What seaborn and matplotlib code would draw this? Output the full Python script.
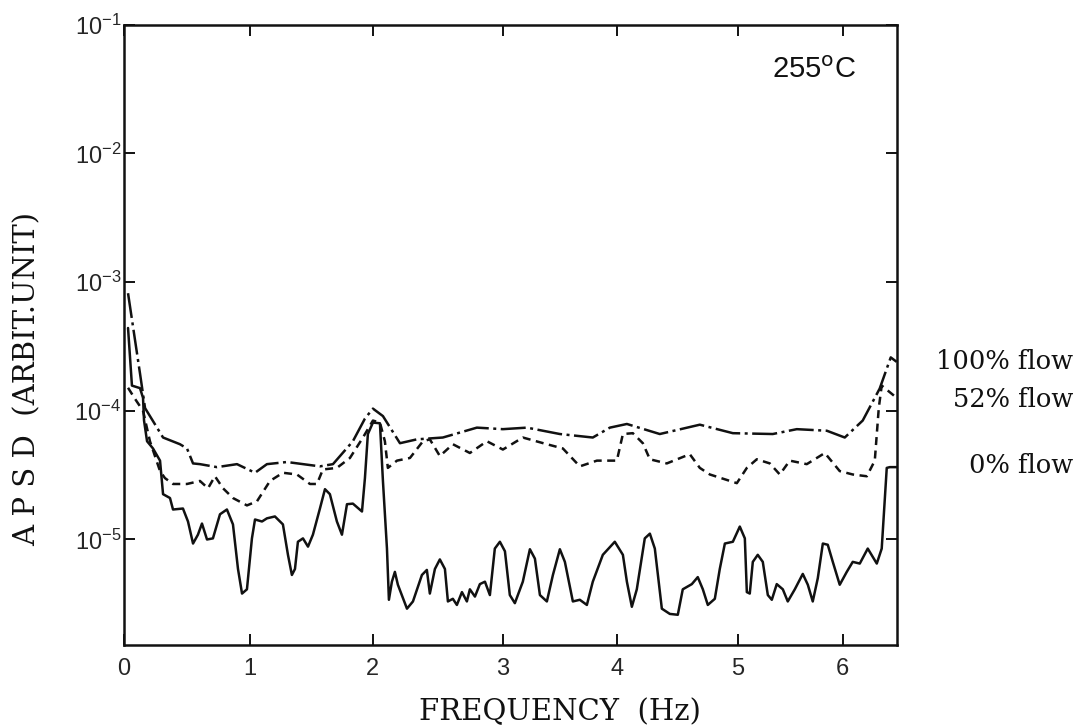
import numpy as np
import pandas as pd
import matplotlib
matplotlib.use("Agg")
import matplotlib.pyplot as plt
import seaborn as sns

# ---- data (frequencies in Hz) ----
freq_100 = [0.032, 0.127, 0.167, 0.262, 0.310, 0.444, 0.500, 0.548, 0.603, 0.738, 0.897, 1.041,
            1.138, 1.301, 1.569, 1.675, 1.837, 1.935, 2.000, 2.077, 2.208, 2.338, 2.538, 2.800,
            3.000, 3.211, 3.500, 3.789, 3.939, 4.083, 4.355, 4.686, 4.959, 5.333, 5.562, 5.848,
            6.019, 6.190, 6.352, 6.457, 6.514]
apsd_100 = [8.2e-4, 1.95e-4, 1.05e-4, 7.4e-5, 6.2e-5, 5.5e-5, 5.1e-5, 3.9e-5, 3.85e-5, 3.65e-5, 3.85e-5, 3.3e-5,
            3.85e-5, 4.0e-5, 3.7e-5, 3.85e-5, 5.8e-5, 8.7e-5, 1.04e-4, 9.1e-5, 5.6e-5, 6.0e-5, 6.2e-5, 7.4e-5,
            7.2e-5, 7.4e-5, 6.6e-5, 6.2e-5, 7.4e-5, 7.9e-5, 6.6e-5, 7.8e-5, 6.7e-5, 6.6e-5, 7.2e-5, 7.0e-5,
            6.2e-5, 8.4e-5, 1.49e-4, 2.6e-4, 2.4e-4]

freq_52 = [0.032, 0.087, 0.151, 0.206, 0.286, 0.325, 0.389, 0.500, 0.603, 0.667, 0.722, 0.786,
           0.865, 0.976, 1.057, 1.163, 1.268, 1.382, 1.488, 1.545, 1.593, 1.707, 1.813, 1.919,
           2.000, 2.054, 2.092, 2.115, 2.185, 2.285, 2.385, 2.438, 2.515, 2.615, 2.746, 2.877,
           3.000, 3.175, 3.386, 3.526, 3.675, 3.825, 4.000, 4.050, 4.132, 4.215, 4.273, 4.413,
           4.603, 4.686, 4.769, 4.992, 5.086, 5.181, 5.305, 5.400, 5.495, 5.657, 5.829, 5.971,
           6.095, 6.229, 6.305, 6.343, 6.371, 6.514]
apsd_52 = [1.51e-4, 1.24e-4, 1.0e-4, 5.8e-5, 3.4e-5, 3.0e-5, 2.7e-5, 2.7e-5, 2.85e-5, 2.5e-5, 3.1e-5, 2.5e-5,
           2.1e-5, 1.84e-5, 1.98e-5, 2.85e-5, 3.3e-5, 3.2e-5, 2.7e-5, 2.7e-5, 3.5e-5, 3.6e-5, 4.3e-5, 6.2e-5,
           8.4e-5, 8.1e-5, 5.8e-5, 3.6e-5, 4.1e-5, 4.3e-5, 5.8e-5, 6.0e-5, 4.45e-5, 5.5e-5, 4.7e-5, 5.8e-5,
           5.0e-5, 6.2e-5, 5.5e-5, 5.1e-5, 3.7e-5, 4.1e-5, 4.1e-5, 6.6e-5, 6.7e-5, 5.6e-5, 4.2e-5, 3.9e-5,
           4.6e-5, 3.6e-5, 3.2e-5, 2.74e-5, 3.6e-5, 4.2e-5, 3.9e-5, 3.2e-5, 4.1e-5, 3.85e-5, 4.7e-5, 3.4e-5,
           3.2e-5, 3.1e-5, 4.1e-5, 1.05e-4, 1.57e-4, 1.26e-4]

freq_0 = [0.032, 0.063, 0.127, 0.151, 0.159, 0.183, 0.230, 0.286, 0.310, 0.365, 0.389, 0.468,
          0.508, 0.548, 0.587, 0.619, 0.659, 0.706, 0.762, 0.817, 0.865, 0.905, 0.937, 0.976,
          1.016, 1.041, 1.098, 1.138, 1.203, 1.268, 1.309, 1.341, 1.366, 1.390, 1.431, 1.472,
          1.512, 1.569, 1.610, 1.650, 1.707, 1.748, 1.789, 1.837, 1.911, 1.935, 1.959, 2.000,
          2.054, 2.077, 2.108, 2.123, 2.146, 2.169, 2.192, 2.262, 2.308, 2.377, 2.415, 2.438,
          2.477, 2.515, 2.554, 2.577, 2.615, 2.646, 2.685, 2.723, 2.746, 2.785, 2.823, 2.862,
          2.900, 2.938, 2.977, 3.018, 3.061, 3.105, 3.175, 3.237, 3.281, 3.325, 3.386, 3.439,
          3.500, 3.544, 3.614, 3.675, 3.737, 3.789, 3.877, 3.982, 4.050, 4.083, 4.124, 4.165,
          4.231, 4.273, 4.314, 4.372, 4.438, 4.504, 4.545, 4.620, 4.669, 4.711, 4.752, 4.810,
          4.851, 4.893, 4.959, 5.019, 5.067, 5.086, 5.114, 5.143, 5.190, 5.238, 5.286, 5.324,
          5.371, 5.429, 5.476, 5.543, 5.619, 5.667, 5.714, 5.762, 5.810, 5.857, 5.905, 5.971,
          6.038, 6.095, 6.162, 6.238, 6.324, 6.371, 6.419, 6.448, 6.514]
apsd_0 = [4.4e-4, 1.57e-4, 1.5e-4, 1.26e-4, 8.4e-5, 5.8e-5, 5.1e-5, 4.1e-5, 2.25e-5, 2.1e-5, 1.71e-5, 1.74e-5,
          1.38e-5, 9.3e-6, 1.09e-5, 1.33e-5, 1.0e-5, 1.02e-5, 1.57e-5, 1.71e-5, 1.31e-5, 5.9e-6, 3.8e-6, 4.1e-6,
          1.02e-5, 1.43e-5, 1.38e-5, 1.46e-5, 1.51e-5, 1.31e-5, 7.6e-6, 5.3e-6, 5.9e-6, 9.6e-6, 1.02e-5, 8.8e-6,
          1.09e-5, 1.74e-5, 2.46e-5, 2.25e-5, 1.38e-5, 1.09e-5, 1.88e-5, 1.9e-5, 1.65e-5, 3.0e-5, 6.6e-5, 8.1e-5,
          8.0e-5, 2.85e-5, 8.5e-6, 3.4e-6, 4.7e-6, 5.6e-6, 4.45e-6, 2.9e-6, 3.3e-6, 5.3e-6, 5.8e-6, 3.8e-6,
          5.9e-6, 7.0e-6, 5.9e-6, 3.3e-6, 3.46e-6, 3.1e-6, 3.9e-6, 3.3e-6, 4.1e-6, 3.6e-6, 4.5e-6, 4.7e-6,
          3.7e-6, 8.5e-6, 9.6e-6, 8.1e-6, 3.7e-6, 3.2e-6, 4.7e-6, 8.4e-6, 7.1e-6, 3.7e-6, 3.3e-6, 5.3e-6,
          8.4e-6, 6.7e-6, 3.3e-6, 3.4e-6, 3.1e-6, 4.7e-6, 7.6e-6, 9.6e-6, 7.6e-6, 4.7e-6, 3.0e-6, 4.1e-6,
          1.02e-5, 1.11e-5, 8.5e-6, 2.9e-6, 2.64e-6, 2.6e-6, 4.1e-6, 4.5e-6, 5.1e-6, 4.1e-6, 3.1e-6, 3.46e-6,
          5.9e-6, 9.3e-6, 9.6e-6, 1.26e-5, 1.02e-5, 3.9e-6, 3.8e-6, 6.7e-6, 7.6e-6, 6.7e-6, 3.7e-6, 3.4e-6,
          4.5e-6, 4.1e-6, 3.3e-6, 4.1e-6, 5.4e-6, 4.45e-6, 3.3e-6, 5.0e-6, 9.3e-6, 9.1e-6, 6.7e-6, 4.45e-6,
          5.6e-6, 6.7e-6, 6.5e-6, 8.5e-6, 6.5e-6, 8.5e-6, 3.6e-5, 3.65e-5, 3.65e-5]

series_labels = ["100% flow", "52% flow", "0% flow"]
x_ticks = [0, 1, 2, 3, 4, 5, 6]
y_ticks = [1e-5, 1e-4, 1e-3, 1e-2, 1e-1]
y_ticklabels = [r"$10^{-5}$", r"$10^{-4}$", r"$10^{-3}$", r"$10^{-2}$", r"$10^{-1}$"]
annotation = r"255$^{\mathrm{o}}$C"

# The original (hand-drawn) frequency axis is not perfectly uniform:
# calibration of drawn tick spacing, used as a piecewise-linear axis scale.
scale_hz = [-1.0, 0, 1, 2, 3, 4, 5, 6, 7.5]
scale_drawn = [-1.26, 0, 1.26, 2.49, 3.79, 4.93, 6.14, 7.19, 8.765]


def fwd(v):
    return np.interp(v, scale_hz, scale_drawn)


def inv(v):
    return np.interp(v, scale_drawn, scale_hz)


# ---- plotting ----
sns.set_style("ticks")
plt.rcParams["font.family"] = ["DejaVu Serif", "DejaVu Sans"]
plt.rcParams["mathtext.default"] = "regular"

fig = plt.figure(figsize=(10.83, 7.28), dpi=100)
ax = fig.add_axes([0.1145, 0.114, 0.7135, 0.852])
ax.set_xscale("function", functions=(fwd, inv))

styles = [(0, (10, 1.8, 1.2, 1.8)), (0, (3.2, 2.2)), "solid"]
datasets = [(freq_100, apsd_100), (freq_52, apsd_52), (freq_0, apsd_0)]
for (fx, fy), ls in zip(datasets, styles):
    df = pd.DataFrame({"freq": fx, "apsd": fy})
    sns.lineplot(data=df, x="freq", y="apsd", ax=ax, color="#111111", linewidth=1.8,
                 linestyle=ls, estimator=None, sort=False, legend=False)

ax.set_yscale("log")
ax.set_xlim(0, 6.514)
ax.set_ylim(10 ** -5.82, 1e-1)
ax.set_xticks(x_ticks)
ax.set_xticklabels([str(t) for t in x_ticks], family="Liberation Sans", fontsize=17)
ax.xaxis.set_minor_locator(matplotlib.ticker.NullLocator())
ax.set_yticks(y_ticks)
ax.set_yticklabels(y_ticklabels, family="Liberation Sans", fontsize=17)
ax.yaxis.set_minor_locator(matplotlib.ticker.NullLocator())
ax.tick_params(axis="both", which="major", direction="in", length=8, width=1.4,
               top=True, right=True, color="#111111")
ax.tick_params(axis="x", pad=9)
ax.tick_params(axis="y", pad=2)
for s in ax.spines.values():
    s.set_linewidth(1.8)
    s.set_color("#111111")
ax.set_xlabel("")
ax.set_ylabel("")

fig.text(0.517, 0.022, "FREQUENCY  (Hz)", ha="center", va="center", fontsize=21, color="#111111")
fig.text(0.025, 0.48, "A P S D  (ARBIT.UNIT)", ha="center", va="center", rotation=90,
         fontsize=21, color="#111111")

ax.text(0.893, 0.927, annotation, transform=ax.transAxes, ha="center", va="center",
        fontsize=21, family="Liberation Sans", color="#111111")

label_y = [0.503, 0.451, 0.361]
for lab, yy in zip(series_labels, label_y):
    fig.text(0.991, yy, lab, ha="right", va="center", fontsize=18.5, color="#111111")

fig.savefig("out.png", dpi=100, facecolor="white")
